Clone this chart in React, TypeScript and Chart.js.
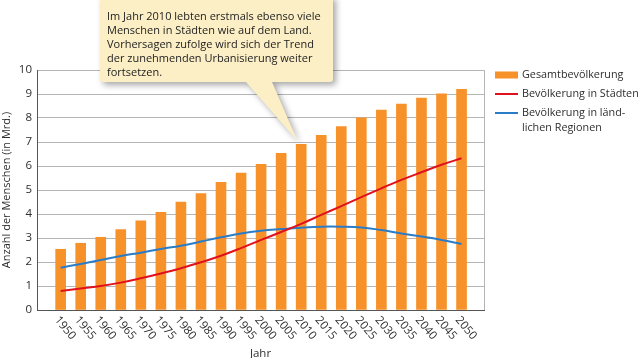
import React, { useEffect, useRef } from "react";
import { Chart, registerables } from "chart.js";

Chart.register(...registerables);

const YEARS = [1950, 1955, 1960, 1965, 1970, 1975, 1980, 1985, 1990, 1995, 2000, 2005, 2010, 2015, 2020, 2025, 2030, 2035, 2040, 2045, 2050];
const TOTAL = [2.53, 2.78, 3.03, 3.35, 3.72, 4.07, 4.5, 4.85, 5.32, 5.71, 6.07, 6.53, 6.9, 7.28, 7.64, 8.01, 8.33, 8.58, 8.83, 9.01, 9.19];
const URBAN = [0.79, 0.9, 1.0, 1.14, 1.32, 1.52, 1.74, 1.99, 2.26, 2.58, 2.92, 3.25, 3.59, 3.96, 4.33, 4.7, 5.07, 5.42, 5.74, 6.05, 6.32];
const RURAL = [1.76, 1.92, 2.08, 2.25, 2.39, 2.54, 2.68, 2.85, 3.03, 3.19, 3.3, 3.37, 3.43, 3.47, 3.47, 3.44, 3.33, 3.19, 3.06, 2.92, 2.75];

const LEGEND_LABELS = [["Gesamtbevölkerung"], ["Bevölkerung in Städten"], ["Bevölkerung in länd-", "lichen Regionen"]];
const CALLOUT_LINES = [
  "Im Jahr 2010 lebten erstmals ebenso viele",
  "Menschen in Städten wie auf dem Land.",
  "Vorhersagen zufolge wird sich der Trend",
  "der zunehmenden Urbanisierung weiter",
  "fortsetzen.",
];
const CALLOUT_YEAR = 2010;
const Y_TITLE = "Anzahl der Menschen (in Mrd.)";
const X_TITLE = "Jahr";

const ORANGE = "#f7922a";
const RED = "#e0101c";
const BLUE = "#2a7cc7";
const TEXT = "#2e2e2e";
const FONT = "'Open Sans', sans-serif";

const decorPlugin = {
  id: "decor",
  beforeDatasetsDraw(chart: any) {
    const { ctx, chartArea: a } = chart;
    ctx.save();
    ctx.strokeStyle = "#b5b5b5";
    ctx.lineWidth = 1;
    ctx.beginPath();
    ctx.moveTo(Math.round(a.right) + 0.5, a.top);
    ctx.lineTo(Math.round(a.right) + 0.5, a.bottom);
    ctx.stroke();
    ctx.restore();
  },
  afterDraw(chart: any) {
    const { ctx, chartArea: a, scales } = chart;
    const xs = scales.x;
    const ys = scales.y;
    // rotated x tick labels
    ctx.save();
    ctx.fillStyle = TEXT;
    ctx.font = `11.5px ${FONT}`;
    ctx.textAlign = "left";
    ctx.textBaseline = "middle";
    YEARS.forEach((yr) => {
      const px = xs.getPixelForValue(yr);
      ctx.save();
      ctx.translate(px - 4, a.bottom + 8);
      ctx.rotate((50 * Math.PI) / 180);
      ctx.fillText(String(yr), 0, 0);
      ctx.restore();
    });
    ctx.restore();

    // legend
    ctx.save();
    ctx.font = `10.8px ${FONT}`;
    ctx.textAlign = "left";
    ctx.textBaseline = "middle";
    const lx = a.right + 11;
    const ty = [75, 94, 113];
    ctx.fillStyle = ORANGE;
    ctx.fillRect(lx, ty[0] - 3.5, 23, 7);
    ctx.lineWidth = 2;
    ctx.strokeStyle = RED;
    ctx.beginPath();
    ctx.moveTo(lx, ty[1]);
    ctx.lineTo(lx + 23, ty[1]);
    ctx.stroke();
    ctx.strokeStyle = BLUE;
    ctx.beginPath();
    ctx.moveTo(lx, ty[2]);
    ctx.lineTo(lx + 23, ty[2]);
    ctx.stroke();
    ctx.fillStyle = TEXT;
    LEGEND_LABELS.forEach((lines, i) => {
      lines.forEach((ln, j) => ctx.fillText(ln, lx + 27, ty[i] + j * 15));
    });
    ctx.restore();

    // callout
    const idx = YEARS.indexOf(CALLOUT_YEAR);
    const tipX = xs.getPixelForValue(CALLOUT_YEAR) - 4;
    const tipY = ys.getPixelForValue(TOTAL[idx]) - 4;
    const bx0 = 100, bx1 = 333, by0 = -4, by1 = 82, r = 3;
    ctx.save();
    ctx.beginPath();
    ctx.moveTo(bx0, by0);
    ctx.lineTo(bx1, by0);
    ctx.lineTo(bx1, by1 - r);
    ctx.quadraticCurveTo(bx1, by1, bx1 - r, by1);
    ctx.lineTo(272, by1);
    ctx.lineTo(tipX, tipY);
    ctx.lineTo(246, by1);
    ctx.lineTo(bx0 + r, by1);
    ctx.quadraticCurveTo(bx0, by1, bx0, by1 - r);
    ctx.closePath();
    ctx.shadowColor = "rgba(0,0,0,0.35)";
    ctx.shadowBlur = 6;
    ctx.shadowOffsetX = 3;
    ctx.shadowOffsetY = 3;
    ctx.fillStyle = "#fcefc6";
    ctx.fill();
    ctx.restore();
    ctx.save();
    ctx.fillStyle = "#222";
    ctx.font = `11px ${FONT}`;
    ctx.textAlign = "left";
    ctx.textBaseline = "alphabetic";
    CALLOUT_LINES.forEach((ln, i) => ctx.fillText(ln, 107, 19.5 + i * 14.1));
    ctx.restore();
  },
};

export default function App() {
  const ref = useRef<HTMLCanvasElement | null>(null);
  useEffect(() => {
    if (!ref.current) return;
    Chart.defaults.font.family = FONT;
    const chart = new Chart(ref.current, {
      type: "bar",
      data: {
        datasets: [
          {
            type: "bar",
            label: LEGEND_LABELS[0].join(" "),
            data: YEARS.map((x, i) => ({ x, y: TOTAL[i] })),
            backgroundColor: ORANGE,
            barThickness: 10,
            order: 3,
          } as any,
          {
            type: "line",
            label: LEGEND_LABELS[1].join(" "),
            data: YEARS.map((x, i) => ({ x, y: URBAN[i] })),
            borderColor: RED,
            borderWidth: 2,
            pointRadius: 0,
            tension: 0.4,
            order: 1,
          } as any,
          {
            type: "line",
            label: LEGEND_LABELS[2].join(""),
            data: YEARS.map((x, i) => ({ x, y: RURAL[i] })),
            borderColor: BLUE,
            borderWidth: 2,
            pointRadius: 0,
            tension: 0.4,
            order: 2,
          } as any,
        ],
      },
      options: {
        responsive: false,
        animation: false,
        layout: { padding: { top: 70, right: 156, left: 0, bottom: 0 } },
        plugins: { legend: { display: false }, tooltip: { enabled: false } },
        scales: {
          x: {
            type: "linear",
            min: 1944.1,
            max: 2055.6,
            offset: false,
            grid: { display: false },
            border: { display: true, color: "#555", width: 1 },
            ticks: { display: false },
            title: { display: true, text: X_TITLE, color: TEXT, font: { size: 11.5, family: FONT }, padding: { top: 0, bottom: -3 } },
            afterFit: (s: any) => {
              s.height = 48;
            },
          },
          y: {
            min: 0,
            max: 10,
            ticks: { stepSize: 1, color: TEXT, font: { size: 11.5, family: FONT }, padding: 5 },
            grid: { color: "#b5b5b5", drawTicks: false, lineWidth: 1 },
            border: { display: true, color: "#555", width: 1 },
            title: { display: true, text: Y_TITLE, color: TEXT, font: { size: 11, family: FONT }, padding: { top: 0, bottom: 0 } },
            afterFit: (s: any) => {
              s.width = 37;
            },
          },
        },
      } as any,
      plugins: [decorPlugin],
    });
    return () => chart.destroy();
  }, []);
  return (
    <div style={{ position: "absolute", left: 0, top: 0, width: 640, height: 358, background: "#fff" }}>
      <canvas ref={ref} width={640} height={358} />
    </div>
  );
}
